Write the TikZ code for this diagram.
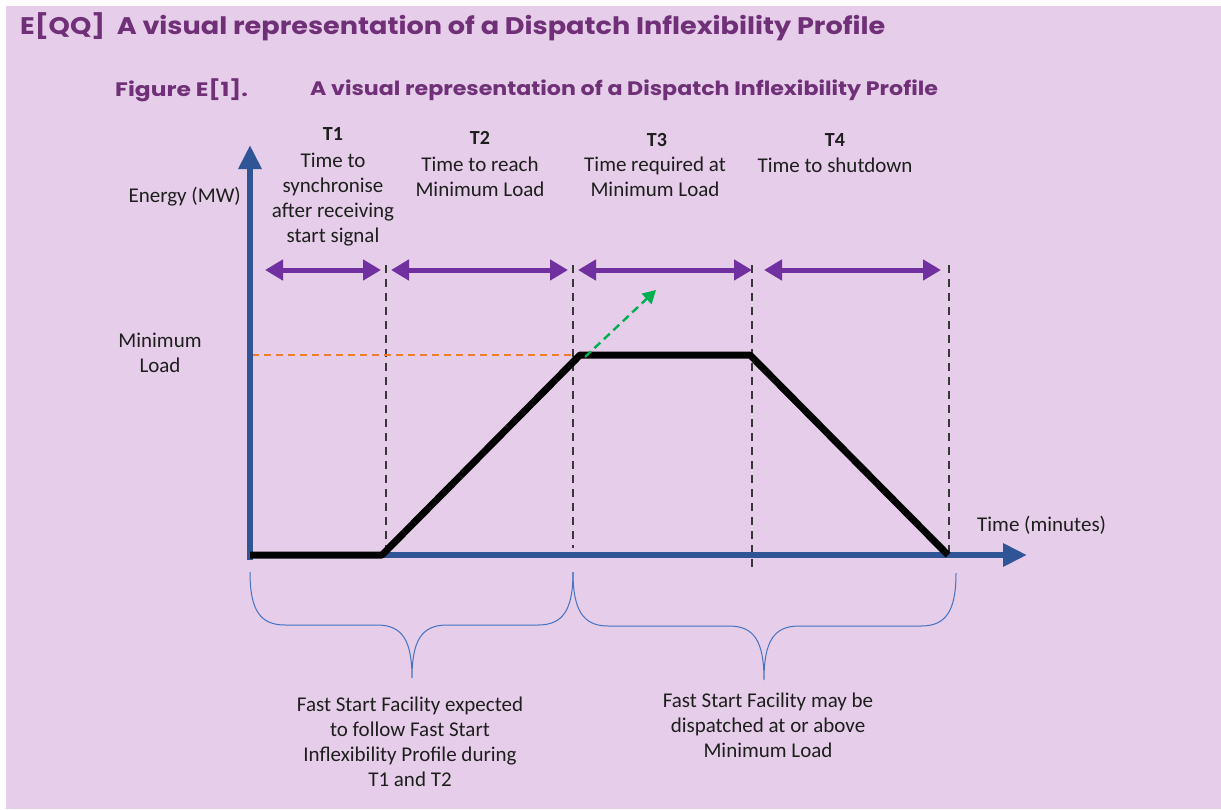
\documentclass[tikz,border=0pt]{standalone}
\usepackage{fontspec}
\setmainfont{Carlito}
\newfontfamily\titlefont{Poppins}
\usetikzlibrary{arrows.meta}
\definecolor{bg}{RGB}{230,205,233}
\definecolor{ttl}{RGB}{112,48,120}
\definecolor{axblue}{RGB}{47,85,151}
\definecolor{purp}{RGB}{112,48,160}
\definecolor{orng}{RGB}{237,125,49}
\definecolor{grn}{RGB}{0,176,80}
\definecolor{brc}{RGB}{68,114,196}
\definecolor{txt}{RGB}{30,30,30}
\definecolor{dsh}{RGB}{55,55,55}
\begin{document}
\begin{tikzpicture}[x=1pt,y=-1pt,
  lbl/.style={text=txt,font=\fontsize{21}{25}\selectfont,align=center,inner sep=0pt},
  tlbl/.style={text=txt,font=\bfseries\fontsize{20}{25}\selectfont,inner sep=0pt},
  axisline/.style={axblue,line width=6pt,-{Triangle[length=24pt,width=22pt]}},
  profile/.style={black,line width=7pt,line join=round},
  vdash/.style={dsh,line width=1.8pt,dash pattern=on 8pt off 6pt},
  period/.style={purp,line width=5pt,{Triangle[length=18pt,width=20pt]}-{Triangle[length=18pt,width=20pt]}},
  bracepath/.style={brc,line width=1pt},
  heading/.style={text=ttl,inner sep=0pt,anchor=west}]
\useasboundingbox (0,0) rectangle (1221,809);
\fill[white] (0,0) rectangle (1221,809);
\fill[bg] (6,6) rectangle (1221,809);

% titles
\node[heading,font=\titlefont\bfseries\fontsize{24}{28}\selectfont] (title) at (20,27) {\scalebox{1.13}[1]{E[QQ]\ \ A visual representation of a Dispatch Inflexibility Profile}};
\node[heading,font=\titlefont\bfseries\fontsize{19.5}{23}\selectfont] (fig) at (115,90) {\scalebox{1.2}[1]{Figure E[1].}};
\node[heading,font=\titlefont\bfseries\fontsize{19.5}{23}\selectfont] (figt) at (310,90) {\scalebox{1.136}[1]{A visual representation of a Dispatch Inflexibility Profile}};

% coordinates
\coordinate (o) at (250,555);
\coordinate (ytip) at (250,145);
\coordinate (xstart) at (250,555);
\coordinate (xtip) at (1027,555);
\coordinate (p1) at (382,555);
\coordinate (p2) at (580,355);
\coordinate (p3) at (750,355);
\coordinate (p4) at (948,555);

% dashed verticals
\coordinate (d1t) at (386,265); \coordinate (d1b) at (386,558);
\coordinate (d2t) at (573,265); \coordinate (d2b) at (573,548);
\coordinate (d3t) at (752,265); \coordinate (d3b) at (752,568);
\coordinate (d4t) at (949,265); \coordinate (d4b) at (949,558);
\draw[vdash] (d1t) -- (d1b);
\draw[vdash] (d2t) -- (d2b);
\draw[vdash] (d3t) -- (d3b);
\draw[vdash] (d4t) -- (d4b);

% orange min load line
\coordinate (ml0) at (252,355);
\draw[orng,line width=1.4pt,dash pattern=on 7pt off 5pt] (ml0) -- (p2);

% axes
\draw[axisline] (250,560) -- (ytip);
\draw[axisline] (xstart) -- (xtip);

% profile
\draw[profile] (o) -- (p1) -- (p2) -- (p3) -- (p4);

% green arrow
\coordinate (g0) at (585,357);
\coordinate (g1) at (656,290);
\draw[grn,line width=2.4pt,dash pattern=on 8pt off 5pt,-{Triangle[length=13pt,width=14pt]}] (g0) -- (g1);

% period arrows
\coordinate (a1l) at (265,270); \coordinate (a1r) at (381,270);
\coordinate (a2l) at (391,270); \coordinate (a2r) at (568,270);
\coordinate (a3l) at (578,270); \coordinate (a3r) at (752,270);
\coordinate (a4l) at (764,270); \coordinate (a4r) at (941,270);
\draw[period] (a1l) -- (a1r);
\draw[period] (a2l) -- (a2r);
\draw[period] (a3l) -- (a3r);
\draw[period] (a4l) -- (a4r);

% period labels
\node[tlbl] (t1) at (333,134) {T1};
\node[lbl] (t1b) at (333,200) {Time to\\synchronise\\after receiving\\start signal};
\node[tlbl] (t2) at (480,138) {T2};
\node[lbl] (t2b) at (480,177) {Time to reach\\Minimum Load};
\node[tlbl] (t3) at (657,140) {T3};
\node[lbl] (t3b) at (655,177) {Time required at\\Minimum Load};
\node[tlbl] (t4) at (835,140) {T4};
\node[lbl] (t4b) at (835,165) {Time to shutdown};

% axis labels
\node[lbl,anchor=east] (ylab) at (241,197) {Energy (MW)};
\node[lbl] (minload) at (160,353) {Minimum\\Load};
\node[lbl,anchor=west] (xlab) at (977,525) {Time (minutes)};

% braces
\coordinate (b1l) at (250,572); \coordinate (b1m) at (412,678); \coordinate (b1r) at (573,572);
\draw[bracepath] (b1l) .. controls (250,610) and (260,625) .. (285,625) -- (377,625)
  .. controls (402,625) and (412,640) .. (b1m)
  .. controls (412,640) and (422,625) .. (447,625) -- (538,625)
  .. controls (563,625) and (573,610) .. (b1r);
\coordinate (b2l) at (573,572); \coordinate (b2m) at (764,680); \coordinate (b2r) at (956,573);
\draw[bracepath] (b2l) .. controls (573,610) and (583,626) .. (608,626) -- (729,626)
  .. controls (754,626) and (764,641) .. (b2m)
  .. controls (764,641) and (774,626) .. (799,626) -- (921,626)
  .. controls (946,626) and (956,611) .. (b2r);

% bottom texts
\node[lbl] (note1) at (410,742) {Fast Start Facility expected\\to follow Fast Start\\Inflexibility Profile during\\T1 and T2};
\node[lbl] (note2) at (768,725) {Fast Start Facility may be\\dispatched at or above\\Minimum Load};
\end{tikzpicture}
\end{document}
